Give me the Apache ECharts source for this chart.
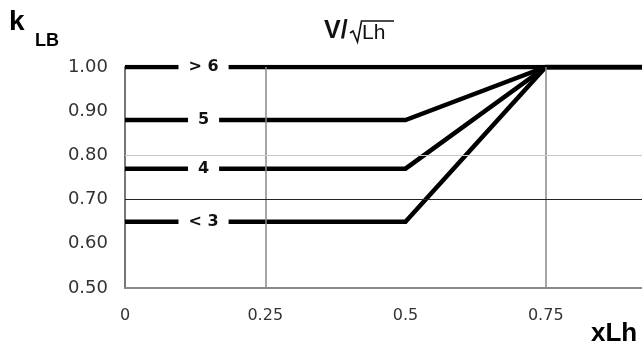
<!DOCTYPE html>
<html>
<head>
<meta charset="utf-8">
<script src="https://cdn.jsdelivr.net/npm/echarts@6/dist/echarts.min.js"></script>
<style>
  html, body { margin: 0; padding: 0; background: #fff; }
  #chart { width: 642px; height: 347px; }
</style>
</head>
<body>
<div id="chart"></div>
<script>
// Reduction factor k_LB against relative position x/Lh, one curve per V/sqrt(Lh) class
const curveNames = ['> 6', '5', '4', '< 3'];
const startValues = [1.00, 0.88, 0.77, 0.65];   // k_LB on the flat part
const xBreaks = [0, 0.5, 0.75, 1.0];           // x/Lh where each curve bends
const topValue = 1.00;                          // all curves meet here from 0.75 on
const labelX = 0.14;                            // where the class label sits on each curve
const xTicks = [0, 0.25, 0.5, 0.75, 1.0];
const yTicks = [0.50, 0.60, 0.70, 0.80, 0.90, 1.00];
const xGridLines = [0.25, 0.75];
const yGridLines = [0.70, 0.80];

function curveData(v, i) {
  if (i === 0) return [[xBreaks[0], v], [xBreaks[3], v]];
  return [[xBreaks[0], v], [xBreaks[1], v], [xBreaks[2], topValue], [xBreaks[3], topValue]];
}

const chart = echarts.init(document.getElementById('chart'), null, { renderer: 'canvas' });

const curveSeries = curveNames.map((name, i) => ({
  name: name,
  type: 'line',
  z: 3,
  data: curveData(startValues[i], i),
  symbol: 'none',
  silent: true,
  lineStyle: { color: '#000', width: 4.5, join: 'miter' },
  markPoint: {
    symbol: 'rect',
    symbolSize: 0,
    z: 4,
    data: [{ coord: [labelX, startValues[i]], value: name }],
    label: {
      show: true,
      position: 'inside',
      formatter: name,
      color: '#111',
      fontFamily: 'DejaVu Sans',
      fontWeight: 'bold',
      fontSize: 16,
      backgroundColor: '#fff',
      padding: [3, 10, 3, 10]
    }
  }
}));

const gridSeries = {
  name: 'grid',
  type: 'line',
  z: 1,
  data: [],
  silent: true,
  markLine: {
    symbol: 'none',
    silent: true,
    label: { show: false },
    data: [
      { xAxis: xGridLines[0], lineStyle: { color: '#8a8a8a', width: 1.5, type: 'solid' } },
      { xAxis: xGridLines[1], lineStyle: { color: '#8a8a8a', width: 1.5, type: 'solid' } },
      { yAxis: yGridLines[0], lineStyle: { color: '#222', width: 1, type: 'solid' } },
      { yAxis: yGridLines[1], lineStyle: { color: '#c8c8c8', width: 1, type: 'solid' } }
    ]
  }
};

chart.setOption({
  animation: false,
  backgroundColor: '#fff',
  grid: {
    left: 125, top: 67, width: 561, height: 221,
    containLabel: false,
    outerBoundsMode: 'none'
  },
  xAxis: {
    type: 'value',
    min: xTicks[0],
    max: xTicks[xTicks.length - 1],
    interval: 0.25,
    axisLine: { show: true, lineStyle: { color: '#8a8a8a', width: 2 } },
    axisTick: { show: false },
    splitLine: { show: false },
    axisLabel: {
      margin: 20,
      color: '#333',
      fontFamily: 'DejaVu Sans',
      fontSize: 16,
      formatter: v => String(v)
    }
  },
  yAxis: {
    type: 'value',
    min: yTicks[0],
    max: yTicks[yTicks.length - 1],
    interval: 0.1,
    axisLine: { show: true, lineStyle: { color: '#777', width: 2 } },
    axisTick: { show: false },
    splitLine: { show: false },
    axisLabel: {
      margin: 17,
      color: '#333',
      fontFamily: 'DejaVu Sans',
      fontSize: 18,
      formatter: v => v.toFixed(2)
    }
  },
  graphic: [
    { type: 'text', left: 9, top: 8, style: { text: 'k', font: 'bold 28px "Liberation Sans"', fill: '#000' } },
    { type: 'text', left: 35, top: 32, style: { text: 'LB', font: 'bold 18px "Liberation Sans"', fill: '#000' } },
    { type: 'text', left: 324, top: 19, style: { text: 'V/', font: 'bold 25px "Liberation Sans"', fill: '#111' } },
    // radical sign with its bar over "Lh"
    { type: 'polyline', shape: { points: [[350, 33], [353, 31], [357.5, 42], [361.5, 21], [394, 21]] },
      style: { stroke: '#111', lineWidth: 1.6, fill: null } },
    { type: 'text', left: 362, top: 23, style: { text: 'Lh', font: '21px "Liberation Sans"', fill: '#111' } },
    { type: 'text', left: 591, top: 321, style: { text: 'xLh', font: 'bold 26px "Liberation Sans"', fill: '#000' } }
  ],
  series: [gridSeries].concat(curveSeries)
});
</script>
</body>
</html>
